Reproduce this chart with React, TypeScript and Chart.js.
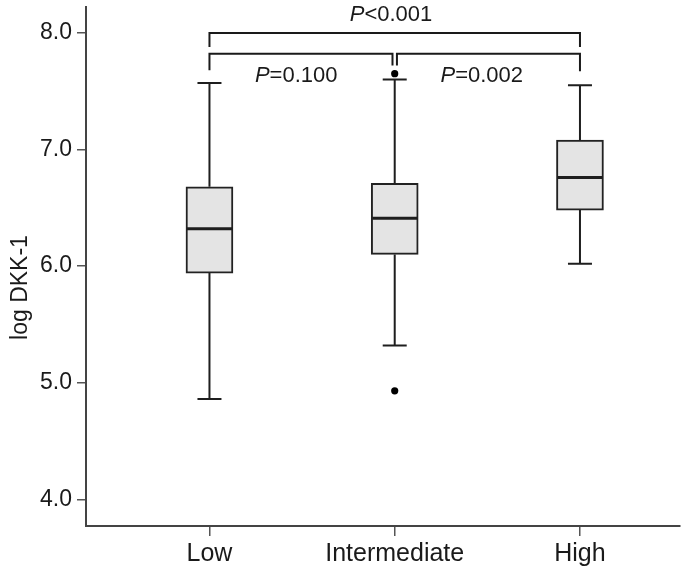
import { useEffect, useRef } from 'react';
import { Chart, registerables } from 'chart.js';
Chart.register(...registerables);

const categories = ['Low', 'Intermediate', 'High'];
const positions = [1, 2, 3];
const whiskerLow = [4.86, 5.32, 6.02];
const q1 = [5.94, 6.1, 6.48];
const median = [6.32, 6.41, 6.76];
const q3 = [6.68, 6.71, 7.08];
const whiskerHigh = [7.57, 7.6, 7.55];
const outlierX = [2, 2];
const outlierY = [7.65, 4.93];
const yTicks = [4, 5, 6, 7, 8];

// comparison brackets: x1, x2, bar level, left end, right end
const bracketX1 = [1, 1, 2.012];
const bracketX2 = [3, 1.988, 3];
const bracketY = [8.0, 7.82, 7.82];
const bracketY1End = [7.88, 7.68, 7.72];
const bracketY2End = [7.88, 7.72, 7.67];
const pLabels = ['<0.001', '=0.100', '=0.002'];
const pLabelX = [1.98, 1.468, 2.47];
const pLabelY = [8.155, 7.63, 7.63];

const FONT = '"Liberation Sans", Arial, sans-serif';
const INK = '#1a1a1a';

const boxPlugin = {
  id: 'boxExtras',
  afterDatasetsDraw(chart: any) {
    const { ctx, scales } = chart;
    const xs = scales.x;
    const ys = scales.y;
    ctx.save();
    ctx.strokeStyle = '#1e1e1e';
    ctx.lineCap = 'butt';
    positions.forEach((p, i) => {
      const cx = xs.getPixelForValue(p);
      ctx.lineWidth = 2;
      ctx.beginPath();
      ctx.moveTo(cx, ys.getPixelForValue(q3[i]));
      ctx.lineTo(cx, ys.getPixelForValue(whiskerHigh[i]));
      ctx.moveTo(cx, ys.getPixelForValue(q1[i]));
      ctx.lineTo(cx, ys.getPixelForValue(whiskerLow[i]));
      ctx.stroke();
      ctx.beginPath();
      const th = ys.getPixelForValue(whiskerHigh[i]);
      const tl = ys.getPixelForValue(whiskerLow[i]);
      ctx.moveTo(cx - 12, th);
      ctx.lineTo(cx + 12, th);
      ctx.moveTo(cx - 12, tl);
      ctx.lineTo(cx + 12, tl);
      ctx.stroke();
      ctx.lineWidth = 3;
      ctx.beginPath();
      const my = ys.getPixelForValue(median[i]);
      ctx.moveTo(cx - 22.5, my);
      ctx.lineTo(cx + 22.5, my);
      ctx.stroke();
    });
    ctx.restore();
  },
  afterDraw(chart: any) {
    const { ctx, scales } = chart;
    const xs = scales.x;
    const ys = scales.y;
    ctx.save();
    ctx.strokeStyle = INK;
    ctx.lineWidth = 2;
    bracketX1.forEach((x1, i) => {
      const px1 = xs.getPixelForValue(x1);
      const px2 = xs.getPixelForValue(bracketX2[i]);
      const py = ys.getPixelForValue(bracketY[i]);
      ctx.beginPath();
      ctx.moveTo(px1, ys.getPixelForValue(bracketY1End[i]));
      ctx.lineTo(px1, py);
      ctx.lineTo(px2, py);
      ctx.lineTo(px2, ys.getPixelForValue(bracketY2End[i]));
      ctx.stroke();
    });
    ctx.fillStyle = INK;
    ctx.textBaseline = 'middle';
    ctx.textAlign = 'left';
    pLabels.forEach((t, i) => {
      ctx.font = `italic 22px ${FONT}`;
      const wP = ctx.measureText('P').width;
      ctx.font = `22px ${FONT}`;
      const wT = ctx.measureText(t).width;
      const cx = xs.getPixelForValue(pLabelX[i]);
      const cy = ys.getPixelForValue(pLabelY[i]);
      const left = cx - (wP + wT) / 2;
      ctx.font = `italic 22px ${FONT}`;
      ctx.fillText('P', left, cy);
      ctx.font = `22px ${FONT}`;
      ctx.fillText(t, left + wP, cy);
    });
    ctx.translate(27, 287.5);
    ctx.rotate(-Math.PI / 2);
    ctx.textAlign = 'center';
    ctx.textBaseline = 'alphabetic';
    ctx.font = `23px ${FONT}`;
    ctx.fillText('log DKK-1', 0, 0);
    ctx.restore();
  },
};

export default function App() {
  const ref = useRef<HTMLCanvasElement>(null);
  useEffect(() => {
    const chart = new Chart(ref.current as HTMLCanvasElement, {
      data: {
        datasets: [
          {
            type: 'bar',
            data: positions.map((p, i) => ({ x: p, y: [q1[i], q3[i]] })) as any,
            backgroundColor: '#e4e4e4',
            borderColor: '#222',
            borderWidth: 2,
            borderSkipped: false,
            barThickness: 47,
            grouped: false,
          } as any,
          {
            type: 'scatter',
            data: outlierX.map((x, i) => ({ x, y: outlierY[i] })),
            backgroundColor: '#000',
            borderColor: '#000',
            pointRadius: 3.6,
            borderWidth: 0,
          },
        ],
      },
      options: {
        animation: false,
        responsive: false,
        devicePixelRatio: 1,
        layout: { padding: { top: 7, right: 4, left: 0, bottom: 0 } },
        plugins: { legend: { display: false }, tooltip: { enabled: false } },
        scales: {
          x: {
            type: 'linear',
            offset: false,
            min: 0.3335,
            max: 3.54,
            afterBuildTicks: (s: any) => {
              s.ticks = positions.map((v) => ({ value: v }));
            },
            afterFit: (s: any) => {
              s.height = 50;
              s.paddingLeft = 0;
              s.paddingRight = 0;
            },
            ticks: {
              callback: (v: any) => categories[positions.indexOf(Number(v))] ?? '',
              font: { family: FONT, size: 25 },
              color: INK,
              padding: 3,
              maxRotation: 0,
              autoSkip: false,
            },
            grid: { offset: false, drawOnChartArea: false, drawTicks: true, tickLength: 10, color: '#555', lineWidth: 1.5 },
            border: { display: true, color: '#444', width: 2 },
          },
          y: {
            type: 'linear',
            min: 3.771,
            max: 8.222,
            afterBuildTicks: (s: any) => {
              s.ticks = yTicks.map((v) => ({ value: v }));
            },
            afterFit: (s: any) => {
              s.width = 86;
              s.paddingTop = 0;
              s.paddingBottom = 0;
            },
            ticks: {
              callback: (v: any) => Number(v).toFixed(1),
              font: { family: FONT, size: 23 },
              color: INK,
              padding: 5,
            },
            grid: { drawOnChartArea: false, drawTicks: true, tickLength: 9, color: '#555', lineWidth: 1.5 },
            border: { display: true, color: '#444', width: 2 },
          },
        },
      },
      plugins: [boxPlugin],
    });
    return () => chart.destroy();
  }, []);
  return (
    <div style={{ position: 'fixed', left: 0, top: 0, width: 684, height: 576, background: '#fff' }}>
      <canvas ref={ref} width={684} height={576} />
    </div>
  );
}
